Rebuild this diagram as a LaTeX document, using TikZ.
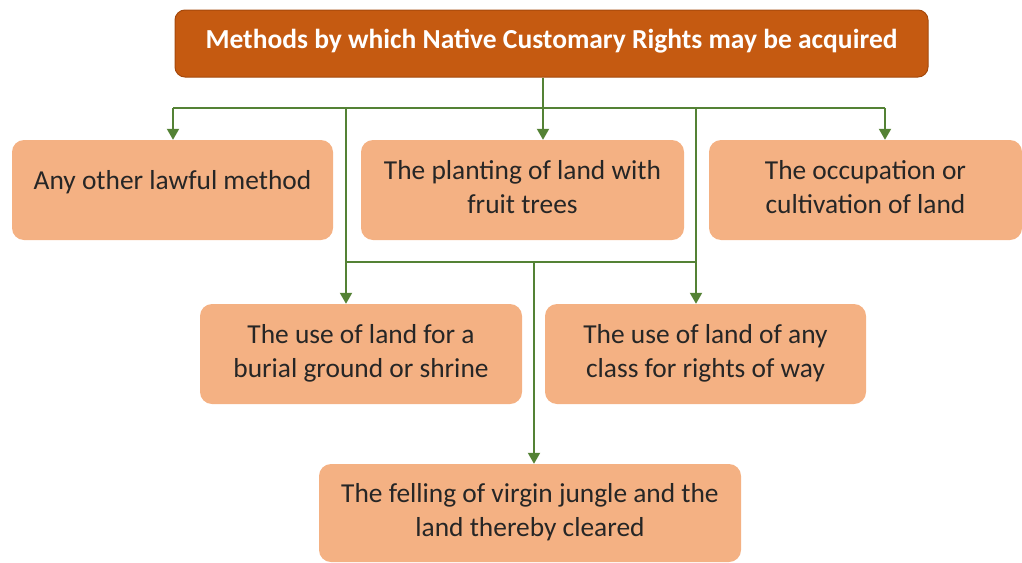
\documentclass[tikz,border=0pt]{standalone}
\usepackage{fontspec}
\setmainfont{Carlito}
\usetikzlibrary{arrows.meta}
\definecolor{boxfill}{HTML}{F4B183}
\definecolor{titlefill}{HTML}{C55A11}
\definecolor{titleline}{HTML}{A5490C}
\definecolor{linkgreen}{HTML}{548235}
\begin{document}
\begin{tikzpicture}[x=1pt,y=-1pt,
    main node/.style={fill=boxfill,rounded corners=12pt,align=center,inner sep=0pt,minimum height=100pt,text depth=6pt,text=black!85,font=\fontsize{27.4}{34}\selectfont},
    title node/.style={fill=titlefill,draw=titleline,line width=1pt,rounded corners=10pt,align=center,inner sep=0pt,minimum width=753pt,minimum height=67pt,text depth=9pt,text=white,font=\bfseries\fontsize{27.5}{32}\selectfont},
    link/.style={draw=linkgreen,line width=2pt},
    tip/.style={link,-{Triangle[length=11pt,width=12pt]}}]
    \useasboundingbox (0,0) rectangle (1022,562);
    \node[title node] (0) at (551.5,43.5) {Methods by which Native Customary Rights may be acquired};
    \node[main node,minimum width=321pt,text depth=20pt] (1) at (172.5,190) {Any other lawful method};
    \node[main node,minimum width=323pt] (2) at (522.5,190) {The planting of land with\\fruit trees};
    \node[main node,minimum width=313pt] (3) at (865.5,190) {The occupation or\\cultivation of land};
    \node[main node,minimum width=322pt] (4) at (361,354) {The use of land for a\\burial ground or shrine};
    \node[main node,minimum width=321pt] (5) at (705.5,354) {The use of land of any\\class for rights of way};
    \node[main node,minimum width=422pt,minimum height=98pt] (6) at (530,513) {The felling of virgin jungle and the\\land thereby cleared};

    % branch points
    \coordinate (top) at (543,108);
    \coordinate (left) at (173,108);
    \coordinate (right) at (885,108);
    \coordinate (burial) at (346,108);
    \coordinate (way) at (696,108);
    \coordinate (mid) at (534,262);

    \path[link] (0.south -| top) -- (top)
      (left) -- (right)
      (burial |- mid) -- (way |- mid);
    \path[tip] (left) -- (left |- 1.north);
    \path[tip] (top) -- (top |- 2.north);
    \path[tip] (right) -- (right |- 3.north);
    \path[tip] (burial) -- (burial |- 4.north);
    \path[tip] (way) -- (way |- 5.north);
    \path[tip] (mid) -- (mid |- 6.north);
  \end{tikzpicture}
\end{document}
